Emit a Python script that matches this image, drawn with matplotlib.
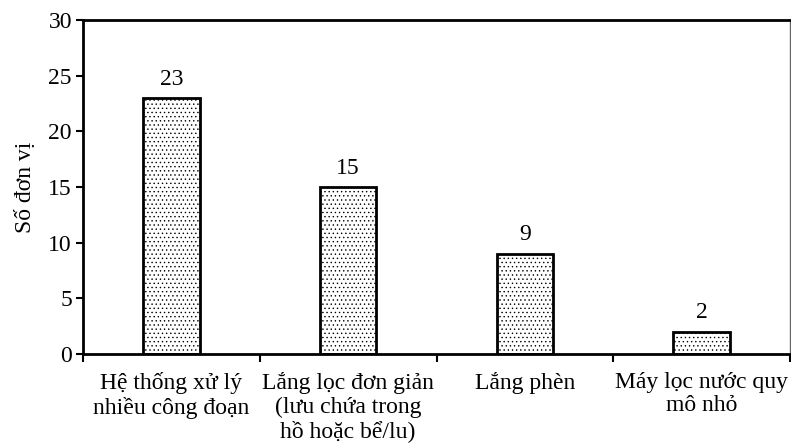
import matplotlib
matplotlib.use("Agg")
import matplotlib.pyplot as plt
import numpy as np

categories = [
    "Hệ thống xử lý\nnhiều công đoạn",
    "Lắng lọc đơn giản\n(lưu chứa trong\nhồ hoặc bể/lu)",
    "Lắng phèn",
    "Máy lọc nước quy\nmô nhỏ",
]
counts = [23, 15, 9, 2]
y_ticks = [0, 5, 10, 15, 20, 25, 30]

plt.rcParams["font.family"] = ["Liberation Serif", "DejaVu Serif"]
plt.rcParams["hatch.linewidth"] = 0.5
plt.rcParams["hatch.color"] = "#666666"

FS = 17

fig = plt.figure(figsize=(7.91, 4.47), dpi=100)
ax = fig.add_axes([83 / 791, 1 - 354 / 447, 707 / 791, 334 / 447])

x = np.arange(len(categories))
bars = ax.bar(x, counts, width=0.32, color="white", edgecolor="black",
              linewidth=2.0, hatch="....")

for xi, v in zip(x, counts):
    ax.annotate(str(v), (xi, v), xytext=(0, 6), textcoords="offset points",
                ha="center", va="bottom", fontsize=FS)

ax.set_xlim(-0.5, len(categories) - 0.5)
ax.set_ylim(0, 30)
ax.set_yticks(y_ticks)
ax.tick_params(axis="y", direction="out", length=5, width=1.5, labelsize=FS, pad=3)

ax.set_xticks(x)
ax.set_xticklabels(categories, fontsize=FS, linespacing=1.15)
ax.set_xticks(np.arange(len(categories) + 1) - 0.5, minor=True)
ax.tick_params(axis="x", which="major", length=0, pad=13)
ax.tick_params(axis="x", which="minor", direction="out", length=6, width=1.5)

ax.set_ylabel("Số đơn vị", fontsize=FS, labelpad=9)

for side in ("left", "bottom", "top"):
    ax.spines[side].set_linewidth(2.0)
    ax.spines[side].set_color("black")
ax.spines["right"].set_linewidth(1.0)
ax.spines["right"].set_color("#666666")

fig.savefig("out.png", dpi=100)
